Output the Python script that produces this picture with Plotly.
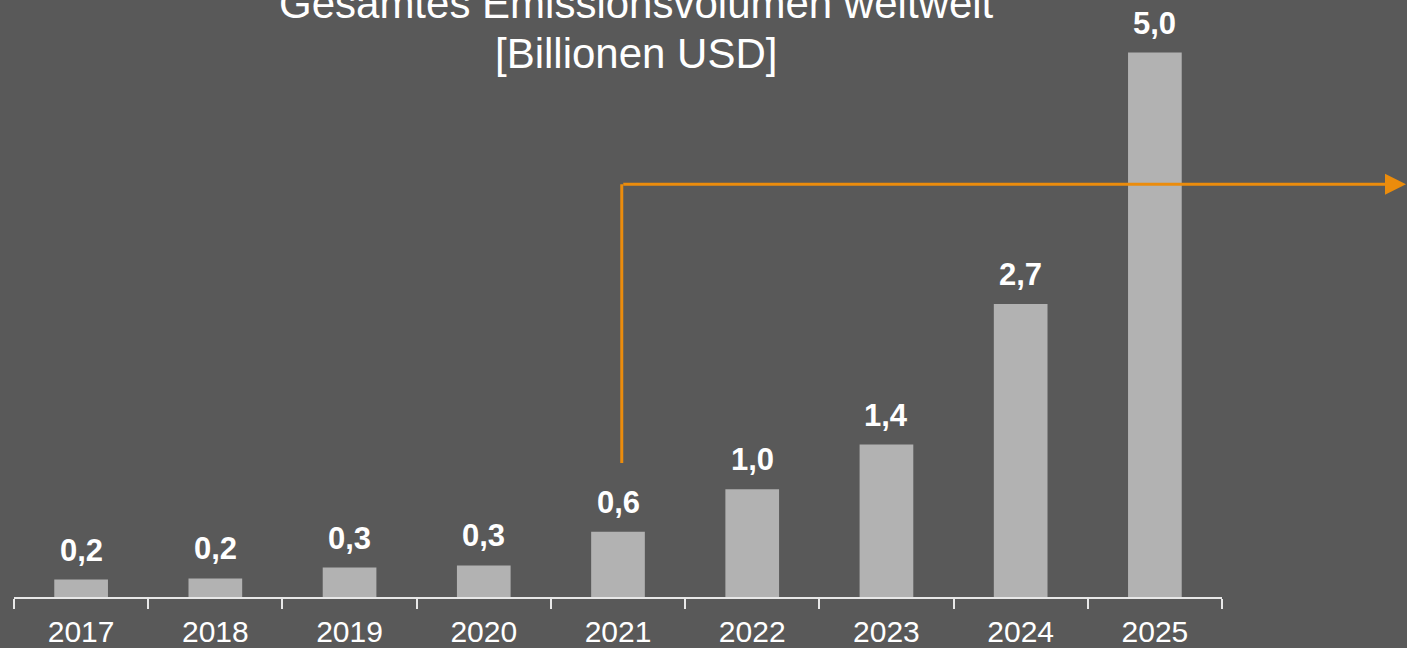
import plotly.graph_objects as go

years = ["2017", "2018", "2019", "2020", "2021", "2022", "2023", "2024", "2025"]
volumes = [0.16, 0.17, 0.27, 0.29, 0.6, 0.99, 1.4, 2.69, 5.0]
labels = [f"{v:.1f}".replace(".", ",") for v in volumes]

title_line1 = "Gesamtes Emissionsvolumen weltweit"
title_line2 = "[Billionen USD]"

BG = "#595959"
BAR = "#b2b2b2"
ORANGE = "#eb8c0c"
FONT = "Liberation Sans, Arial, sans-serif"

W, H = 1407, 648
ML, MR, MT, MB = 14, 185, 0, 51
plot_h = H - MT - MB
plot_w = W - ML - MR
px_per_unit = 108.9
y_top = plot_h / px_per_unit

fig = go.Figure()
fig.add_trace(go.Bar(
    x=years, y=volumes, width=0.4,
    marker=dict(color=BAR, line=dict(width=0)),
    hoverinfo="skip",
))

annotations = []
for i, (v, lab) in enumerate(zip(volumes, labels)):
    annotations.append(dict(
        x=i, y=v, xref="x", yref="y", text=f"<b>{lab}</b>",
        showarrow=False, yanchor="bottom", yshift=10,
        font=dict(family=FONT, size=31, color="white"),
    ))

def pct(p):
    return (plot_h - p) / plot_h

title_x = (636 - ML) / plot_w
annotations.append(dict(
    x=title_x, y=pct(3.5), xref="paper", yref="paper",
    text=title_line1, showarrow=False, xanchor="center", yanchor="middle",
    font=dict(family=FONT, size=42, color="white"),
))
annotations.append(dict(
    x=title_x, y=pct(54), xref="paper", yref="paper",
    text=title_line2, showarrow=False, xanchor="center", yanchor="middle",
    font=dict(family=FONT, size=42, color="white"),
))

arrow_y = 3.79
arrow_start_y = 1.23
arrow_year_idx = years.index("2021")
arrow_x_px = ML + (arrow_year_idx + 0.5 + 0.028) * plot_w / len(years)
tip_px = 1424
# horizontal arrow to the right edge
annotations.append(dict(
    x=(tip_px - ML) / plot_w, y=arrow_y, xref="paper", yref="y",
    ax=-(tip_px - arrow_x_px), ay=0, axref="pixel", ayref="pixel",
    text="", showarrow=True, arrowhead=2, arrowsize=1.4, arrowwidth=3,
    arrowcolor=ORANGE, standoff=0,
))

fig.add_shape(
    type="line", xref="x", yref="y",
    x0=arrow_year_idx + 0.028, x1=arrow_year_idx + 0.028,
    y0=arrow_start_y, y1=arrow_y,
    line=dict(color=ORANGE, width=3),
)

fig.update_layout(
    width=W, height=H,
    margin=dict(l=ML, r=MR, t=MT, b=MB, pad=0, autoexpand=False),
    paper_bgcolor=BG, plot_bgcolor=BG,
    showlegend=False,
    annotations=annotations,
    font=dict(family=FONT, color="white"),
    xaxis=dict(
        type="category", range=[-0.5, len(years) - 0.5],
        automargin=False,
        showgrid=False, zeroline=False,
        showline=True, linecolor="#e8e8e8", linewidth=1.5,
        ticks="outside", tickson="boundaries", ticklen=10, tickwidth=1.5,
        tickcolor="#e8e8e8", tickangle=0,
        tickfont=dict(family=FONT, size=30, color="white"),
        ticklabelstandoff=7,
    ),
    yaxis=dict(visible=False, range=[0, y_top], showgrid=False, zeroline=False,
               automargin=False),
)

fig.write_html("out.html")
